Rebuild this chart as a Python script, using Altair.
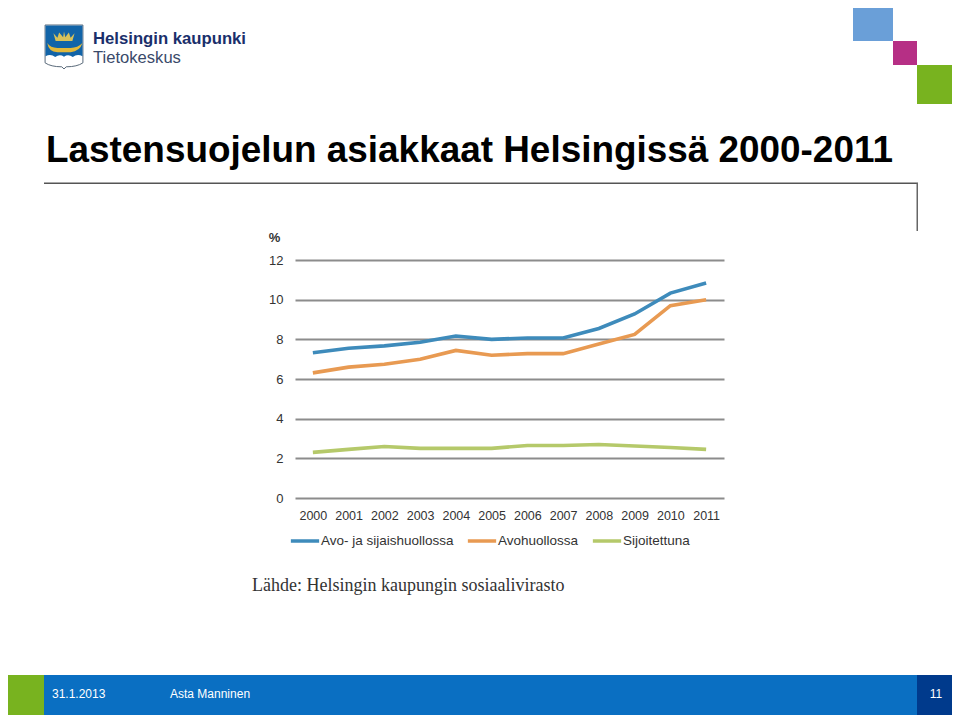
import altair as alt
import pandas as pd

years = list(range(2000, 2012))
series_names = ["Avo- ja sijaishuollossa", "Avohuollossa", "Sijoitettuna"]
avo_ja_sijais = [7.32, 7.55, 7.67, 7.85, 8.17, 8.0, 8.07, 8.07, 8.55, 9.28, 10.33, 10.84]
avohuollossa = [6.31, 6.6, 6.74, 7.0, 7.44, 7.2, 7.28, 7.28, 7.77, 8.25, 9.7, 10.0]
sijoitettuna = [2.3, 2.45, 2.6, 2.5, 2.5, 2.5, 2.65, 2.65, 2.7, 2.62, 2.55, 2.45]
y_ticks = [0, 2, 4, 6, 8, 10, 12]
series_colors = ["#3e8bbb", "#e89a52", "#b5c96a"]

title_text = "Lastensuojelun asiakkaat Helsingissä 2000-2011"
source_text = "Lähde: Helsingin kaupungin sosiaalivirasto"

# view origin on the page
OX, OY = 295, 260
one = alt.Data(values=[{"a": 0}])


def rect(x0, y0, x1, y1, color):
    return alt.Chart(one).mark_rect(color=color, opacity=1).encode(
        x=alt.value(x0 - OX), x2=alt.value(x1 - OX),
        y=alt.value(y0 - OY), y2=alt.value(y1 - OY))


def text(s, x, y, size, color, font="Liberation Sans", weight="normal", align="left"):
    return alt.Chart(one).mark_text(
        text=s, fontSize=size, color=color, font=font, fontWeight=weight,
        align=align, baseline="alphabetic").encode(
        x=alt.value(x - OX), y=alt.value(y - OY))


def shape(path, cx, cy, d, fill, stroke=None):
    kw = dict(shape=path, size=d * d, filled=True, fill=fill, opacity=1)
    if stroke:
        kw.update(stroke=stroke, strokeWidth=1)
    else:
        kw.update(strokeWidth=0)
    return alt.Chart(one).mark_point(**kw).encode(
        x=alt.value(cx - OX), y=alt.value(cy - OY))


shield = "M-0.86 -1 L0.86 -1 L0.86 0.72 Q0.6 0.9 0.1 0.9 L0 1 L-0.1 0.9 Q-0.6 0.9 -0.86 0.72 Z"
shield_blue = ("M-0.84 -0.98 L0.84 -0.98 L0.84 0.42 Q0.6 0.28 0.4 0.46 Q0.2 0.3 0 0.44 "
               "Q-0.2 0.3 -0.4 0.46 Q-0.6 0.28 -0.84 0.42 Z")
crown = ("M-0.48 -0.62 L-0.3 -0.42 L-0.22 -0.66 L-0.04 -0.44 L0 -0.7 L0.06 -0.44 L0.22 -0.66 "
         "L0.3 -0.42 L0.48 -0.62 L0.38 -0.27 L-0.38 -0.27 Z")
boat = ("M-0.76 -0.18 Q-0.7 0.22 -0.3 0.24 L0.3 0.24 Q0.72 0.2 0.84 -0.18 "
        "Q0.62 0.04 0.3 0.04 L-0.3 0.04 Q-0.62 0.04 -0.76 -0.18 Z")

decor = [
    # corner squares
    rect(853, 1, 893, 41, "#6a9fd8"),
    rect(893, 41, 917, 65, "#b62f85"),
    rect(917, 65, 957, 104, "#78b31f"),
    # footer
    rect(5, 675, 44, 715, "#78b31f"),
    rect(44, 675, 917, 715, "#0a6fc2"),
    rect(917, 675, 957, 715, "#003a8c"),
    # title frame
    rect(44, 182.5, 918, 184, "#555555"),
    rect(916.5, 183, 918, 231, "#666666"),
    # logo
    shape(shield, 64, 47, 44, "#ffffff", "#5a6a7a"),
    shape(shield_blue, 64, 47, 44, "#1264a8"),
    shape(crown, 64, 47, 44, "#d9c25a"),
    shape(boat, 64, 47, 44, "#e3b93b"),
    text("Helsingin kaupunki", 93, 44, 16.7, "#1a2f6b", weight="bold"),
    text("Tietokeskus", 93, 63, 16.6, "#3a4a6a"),
    # texts
    text(title_text, 46, 162, 36.9, "#000000", weight="bold"),
    text(source_text, 252, 591, 18, "#333333", font="Liberation Serif"),
    text("31.1.2013", 52, 698, 12, "#ffffff"),
    text("Asta Manninen", 170, 698, 12, "#ffffff"),
    text("11", 936, 698, 12, "#ffffff", align="center"),
]

df = pd.DataFrame({
    "year": years * 3,
    "value": avo_ja_sijais + avohuollossa + sijoitettuna,
    "series": [series_names[0]] * 12 + [series_names[1]] * 12 + [series_names[2]] * 12,
})

lines = alt.Chart(df).mark_line(strokeWidth=3.6, strokeJoin="miter").encode(
    x=alt.X("year:O", scale=alt.Scale(type="point", padding=0.5),
            axis=alt.Axis(title=None, labelAngle=0, domain=False, ticks=False, grid=False,
                          labelFont="Liberation Sans", labelFontSize=12.5, labelColor="#333333",
                          labelPadding=11)),
    y=alt.Y("value:Q", scale=alt.Scale(domain=[0, 12], nice=False),
            axis=alt.Axis(title="%", titleAngle=0, titleX=-21, titleY=-16, titleAlign="center",
                          titleFont="Liberation Sans", titleFontSize=13, titleFontWeight="bold",
                          titleColor="#333333", values=y_ticks, format="d",
                          domain=False, ticks=False, grid=True, gridColor="#8c8c8c", gridWidth=2,
                          labelFont="Liberation Sans", labelFontSize=13, labelColor="#333333",
                          labelPadding=12)),
    color=alt.Color("series:N", sort=series_names,
                    scale=alt.Scale(domain=series_names, range=series_colors),
                    legend=alt.Legend(title=None, orient="none", direction="horizontal", columns=3,
                                      legendX=-6, legendY=265, symbolType="stroke",
                                      symbolSize=800, symbolStrokeWidth=3.5, symbolOffset=0,
                                      labelFont="Liberation Sans", labelFontSize=13.5,
                                      labelColor="#333333", labelOffset=0, columnPadding=6,
                                      padding=0)),
    order="year:O",
)

chart = alt.layer(*decor, lines).properties(
    width=429, height=238,
    padding={"left": 287, "top": 252, "right": 228, "bottom": 218},
    autosize=alt.AutoSizeParams(type="none"),
    background="#ffffff",
).configure_view(stroke=None)

chart.save("out.html", embed_options={"renderer": "svg", "actions": False})
